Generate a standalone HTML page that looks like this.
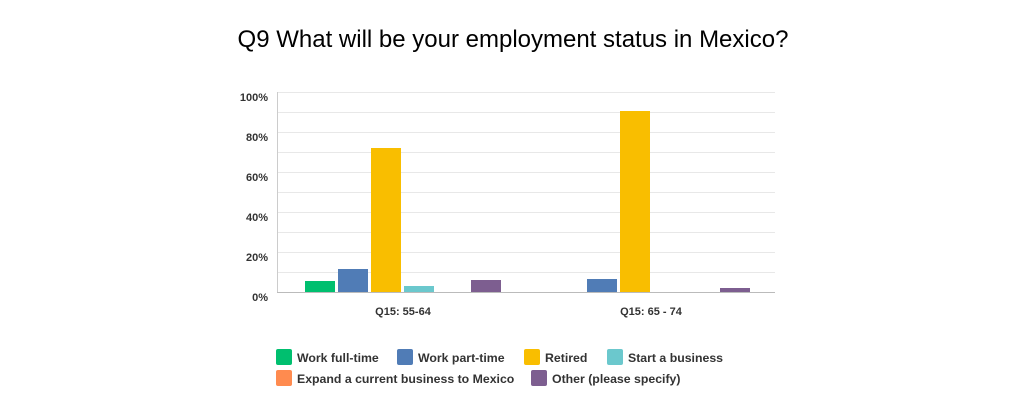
<!DOCTYPE html>
<html><head><style>
body{margin:0;width:1024px;height:400px;background:#fff;font-family:"Liberation Sans",sans-serif;}
</style></head><body>
<svg width="1024" height="400" xmlns="http://www.w3.org/2000/svg" font-family="Liberation Sans, sans-serif">
<text x="513" y="47" text-anchor="middle" font-size="24" fill="#000">Q9 What will be your employment status in Mexico?</text>
<g stroke="#e8e8e8" stroke-width="1">
<line x1="277" x2="775" y1="92.5" y2="92.5"/><line x1="277" x2="775" y1="112.5" y2="112.5"/>
<line x1="277" x2="775" y1="132.5" y2="132.5"/><line x1="277" x2="775" y1="152.5" y2="152.5"/>
<line x1="277" x2="775" y1="172.5" y2="172.5"/><line x1="277" x2="775" y1="192.5" y2="192.5"/>
<line x1="277" x2="775" y1="212.5" y2="212.5"/><line x1="277" x2="775" y1="232.5" y2="232.5"/>
<line x1="277" x2="775" y1="252.5" y2="252.5"/><line x1="277" x2="775" y1="272.5" y2="272.5"/>
</g>
<line x1="277.5" x2="277.5" y1="92" y2="293" stroke="#ccc"/>
<line x1="277" x2="775" y1="292.5" y2="292.5" stroke="#bbb"/>
<g font-size="11" fill="#333" text-anchor="end" font-weight="bold">
<text x="268" y="101">100%</text><text x="268" y="141">80%</text><text x="268" y="181">60%</text>
<text x="268" y="221">40%</text><text x="268" y="261">20%</text><text x="268" y="301">0%</text>
</g>
<rect x="305" y="281" width="30" height="11" fill="#00bf6f"/>
<rect x="338" y="269" width="30" height="23" fill="#507cb6"/>
<rect x="371" y="148" width="30" height="144" fill="#f9be00"/>
<rect x="404" y="286" width="30" height="6" fill="#6bc8cd"/>
<rect x="471" y="280" width="30" height="12" fill="#7d5e90"/>
<rect x="587" y="279" width="30" height="13" fill="#507cb6"/>
<rect x="620" y="111" width="30" height="181" fill="#f9be00"/>
<rect x="720" y="288" width="30" height="4" fill="#7d5e90"/>
<g font-size="11" fill="#333" text-anchor="middle" font-weight="bold">
<text x="403" y="315">Q15: 55-64</text><text x="651" y="315">Q15: 65 - 74</text>
</g>
<g font-size="12.3" fill="#333" font-weight="bold">
<rect x="276" y="349" width="16" height="16" rx="2" fill="#00bf6f"/><text x="297" y="362">Work full-time</text>
<rect x="397" y="349" width="16" height="16" rx="2" fill="#507cb6"/><text x="418" y="362">Work part-time</text>
<rect x="524" y="349" width="16" height="16" rx="2" fill="#f9be00"/><text x="545" y="362">Retired</text>
<rect x="607" y="349" width="16" height="16" rx="2" fill="#6bc8cd"/><text x="628" y="362">Start a business</text>
<rect x="276" y="370" width="16" height="16" rx="2" fill="#ff8b4f"/><text x="297" y="383">Expand a current business to Mexico</text>
<rect x="531" y="370" width="16" height="16" rx="2" fill="#7d5e90"/><text x="552" y="383">Other (please specify)</text>
</g>
</svg>
</body></html>
